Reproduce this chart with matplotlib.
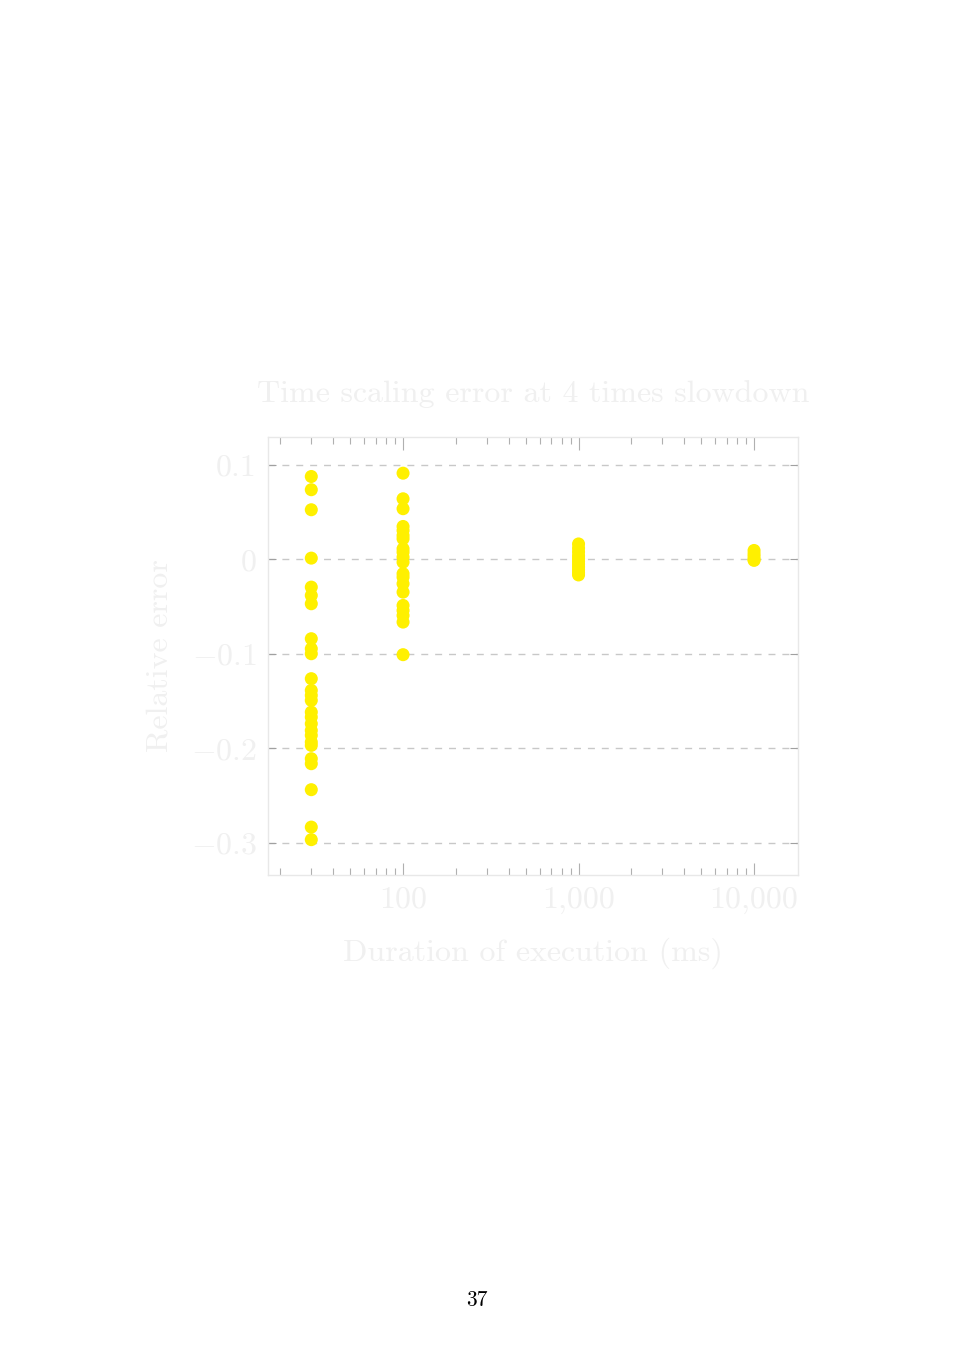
import matplotlib
matplotlib.use("Agg")
import matplotlib.pyplot as plt
from matplotlib.ticker import FuncFormatter, LogLocator, FixedLocator

plt.rcParams['font.family'] = ['cmr10', 'DejaVu Serif']
plt.rcParams['mathtext.fontset'] = 'cm'
plt.rcParams['axes.formatter.use_mathtext'] = True

# Data
dur_30 = [0.0878, 0.0738, 0.0526, 0.0014, -0.0293, -0.0381, -0.0469, -0.0839,
          -0.0945, -0.0998, -0.1262, -0.1386, -0.1439, -0.1492, -0.1616, -0.1669,
          -0.1739, -0.1810, -0.1862, -0.1933, -0.1968, -0.2109, -0.2162, -0.2437,
          -0.2833, -0.2966]
dur_100 = [0.0913, 0.0642, 0.0537, 0.0349, 0.0307, 0.0254, 0.0219, 0.0113, 0.0077,
           0.0024, -0.0029, -0.0151, -0.0187, -0.0257, -0.0346, -0.0487, -0.0540,
           -0.0593, -0.0663, -0.1008]
dur_1000 = [0.0164, 0.012, 0.008, 0.004, 0.001, -0.002, -0.005, -0.008, -0.011,
            -0.014, -0.0164]
dur_10000 = [0.0095, 0.006, 0.003, 0.0, -0.001]
durations = [30, 100, 1000, 10000]
series = [dur_30, dur_100, dur_1000, dur_10000]
y_ticks = [0.1, 0, -0.1, -0.2, -0.3]
x_ticks = [100, 1000, 10000]

title = "Time scaling error at 4 times slowdown"
xlabel = "Duration of execution (ms)"
ylabel = "Relative error"
page_number = "37"

txt = '#f0f0f0'
fig = plt.figure(figsize=(9.55, 13.5), dpi=100)
ax = fig.add_axes([268/955, 1-875/1350, (798-268)/955, (875-437)/1350])

for d, vals in zip(durations, series):
    ax.scatter([d]*len(vals), vals, s=88, color='#fff000', edgecolors='none', zorder=3)

ax.set_xscale('log')
ax.set_xlim(17.0, 17800)
ax.set_ylim(-0.334, 0.1296)
ax.set_yticks(y_ticks)
ax.yaxis.set_major_formatter(FuncFormatter(lambda v, p: '0' if abs(v) < 1e-9 else (r'$-$' + f'{abs(v):g}' if v < 0 else f'{v:g}')))
ax.xaxis.set_major_locator(FixedLocator(x_ticks))
ax.xaxis.set_minor_locator(LogLocator(base=10, subs=range(2, 10)))
ax.xaxis.set_major_formatter(FuncFormatter(lambda v, p: f'{int(round(v)):,}'))
ax.grid(True, axis='y', linestyle=(0, (5, 5)), color='#c8c8c8', linewidth=1.0)

for s in ax.spines.values():
    s.set_color('#e8e8e8')
    s.set_linewidth(1.0)

ax.tick_params(axis='x', which='major', direction='in', top=True, bottom=True,
               length=9, width=0.8, color='#b0b0b0', labelsize=23, labelcolor=txt, pad=8)
ax.tick_params(axis='x', which='minor', direction='in', top=True, bottom=True,
               length=5, width=0.8, color='#b0b0b0')
ax.tick_params(axis='y', which='major', direction='in', left=True, right=True,
               length=6, width=0.8, color='#a0a0a0', labelsize=23, labelcolor=txt, pad=8)

ax.set_title(title, fontsize=23, color=txt, pad=25)
ax.set_xlabel(xlabel, fontsize=23, color=txt, labelpad=17)
ax.set_ylabel(ylabel, fontsize=23, color=txt, labelpad=12)

fig.text(477/955, 1-1300/1350, page_number, fontsize=15.5, color='black', ha='center', va='center')

fig.savefig('out.png', dpi=100, facecolor='white')
